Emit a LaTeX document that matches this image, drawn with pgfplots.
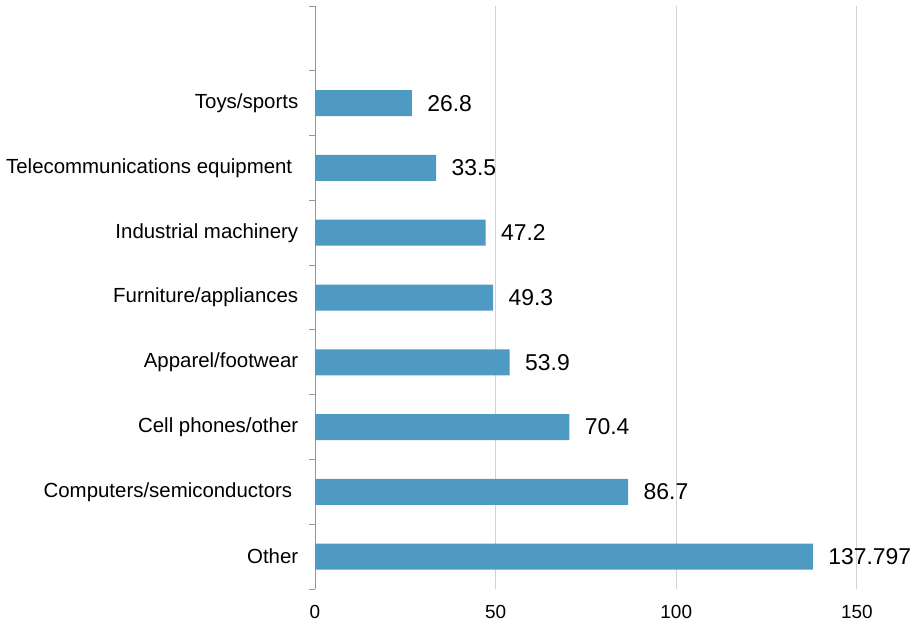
\documentclass[border=0pt]{standalone}
\usepackage{fontspec}
\setmainfont{Liberation Sans}
\usepackage{pgfplots}
\pgfplotsset{compat=1.18}
\definecolor{barblue}{RGB}{79,154,195}
\definecolor{gridgray}{RGB}{210,210,210}
\definecolor{axgray}{RGB}{150,150,150}
\begin{document}
\begin{tikzpicture}
\useasboundingbox (0,0) rectangle (914bp,628bp);
\begin{axis}[
  at={(315bp,39bp)}, anchor=south west,
  scale only axis, width=578bp, height=583bp,
  xmin=0, xmax=160, ymin=-0.5, ymax=8.5,
  xbar, bar width=26bp,
  separate axis lines,
  axis x line*=bottom, axis y line*=left,
  x axis line style={draw=none},
  y axis line style={axgray, line width=0.8pt},
  xtick={0,50,100,150},
  xmajorgrids, grid style={gridgray, line width=0.8pt},
  major x tick style={draw=none},
  /pgf/number format/assume math mode=true,
  xticklabel style={font=\fontsize{19}{20}\selectfont, yshift=-9bp},
  ytick={0,1,2,3,4,5,6,7},
  yticklabels={Other, Computers/semiconductors\hspace*{6bp}, Cell phones/other, Apparel/footwear, Furniture/appliances, Industrial machinery, Telecommunications equipment\hspace*{6bp}, Toys/sports},
  major y tick style={draw=none},
  minor ytick={-0.5,0.5,...,8.5},
  minor y tick style={axgray, line width=0.8pt},
  minor tick length=6bp,
  tick align=outside,
  yticklabel style={font=\fontsize{20.5}{22}\selectfont, xshift=-9bp},
  point meta=explicit symbolic,
  nodes near coords,
  every node near coord/.append style={font=\fontsize{23}{25}\selectfont, anchor=west, xshift=12bp},
]
\addplot[fill=barblue, draw=none] coordinates {
  (137.797,0) [137.797]
  (86.7,1) [86.7]
  (70.4,2) [70.4]
  (53.9,3) [53.9]
  (49.3,4) [49.3]
  (47.2,5) [47.2]
  (33.5,6) [33.5]
  (26.8,7) [26.8]
};
\end{axis}
\end{tikzpicture}
\end{document}
